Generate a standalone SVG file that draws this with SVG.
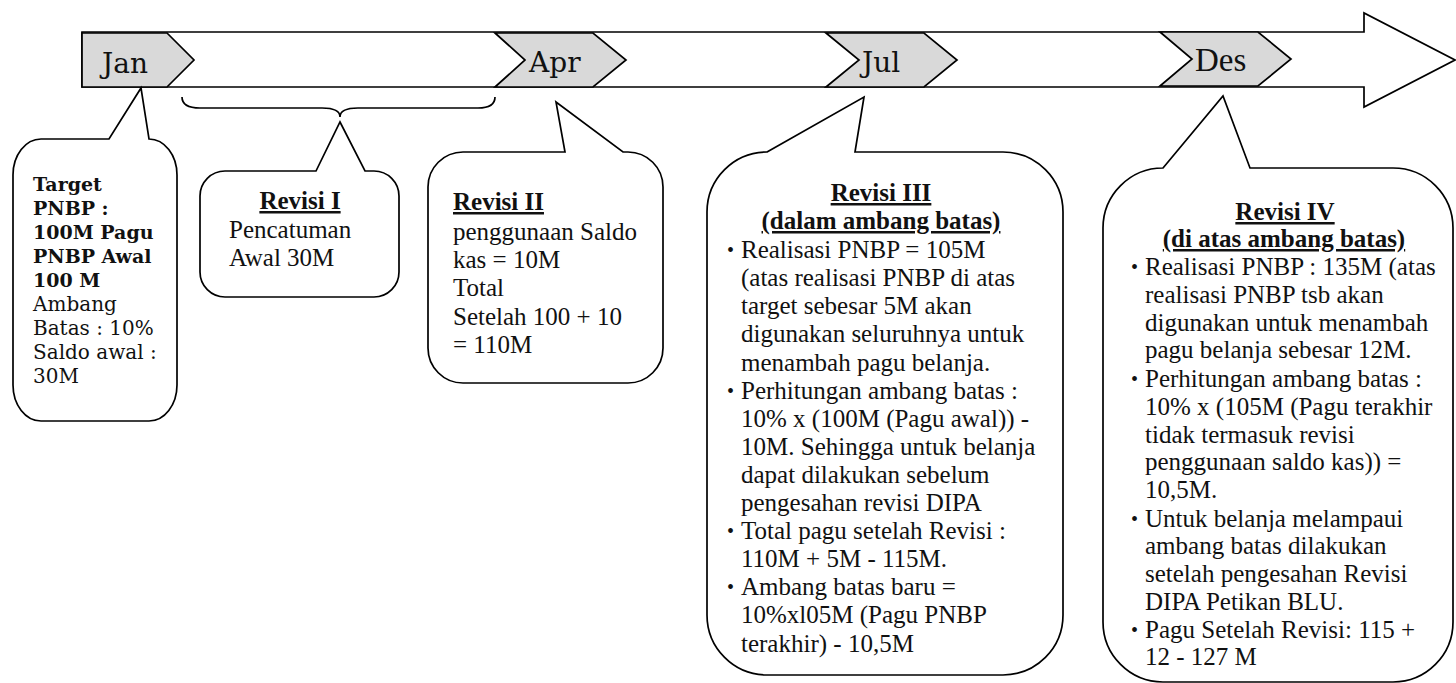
<svg xmlns="http://www.w3.org/2000/svg" width="1456" height="683" viewBox="0 0 1456 683">
  <style>
    .line { fill: none; stroke: #000; stroke-width: 1.7; stroke-linejoin: miter; }
    .box { fill: #fff; stroke: #000; stroke-width: 1.7; stroke-linejoin: miter; }
    .chev { fill: #d9d9d9; stroke: #000; stroke-width: 1.7; stroke-linejoin: miter; }
    .tm { font-family: "Liberation Serif", "Times New Roman", serif; font-size: 25px; fill: #111; }
    .bk { font-family: "DejaVu Serif", serif; fill: #111; }
    .b { font-weight: bold; }
    .u { text-decoration: underline; }
    .mid { text-anchor: middle; }
    .dot { font-size: 20px; }
  </style>

  <!-- timeline arrow -->
  <g id="timeline">
    <polygon class="box" points="82,32 1364,32 1364,13 1455,60 1364,107 1364,87 82,87"/>
  </g>

  <!-- month markers -->
  <g id="m-jan">
    <polygon class="chev" points="82,33 167,33 194,60 167,87 82,87"/>
    <text class="bk" x="102" y="73" style="font-size:28px">Jan</text>
  </g>
  <g id="m-apr">
    <polygon class="chev" points="495,33 593,33 626,60 593,87 495,87 525,60"/>
    <text class="bk" x="529" y="72" style="font-size:28px">Apr</text>
  </g>
  <g id="m-jul">
    <polygon class="chev" points="826,33 924,33 957,60 924,87 826,87 859,60"/>
    <text class="bk" x="862" y="72" style="font-size:28px">Jul</text>
  </g>
  <g id="m-des">
    <polygon class="chev" points="1160,32 1258,32 1291,59 1258,86 1160,86 1192,59"/>
    <text class="tm" x="1195" y="71" style="font-size:33px">Des</text>
  </g>

  <!-- span brace Jan..Apr -->
  <g id="connectors">
    <path class="line" d="M182,97 Q182,108 200,108 H322 Q340,108 340,117 Q340,108 358,108 H478 Q495,108 495,97"/>
  </g>

  <!-- initial state -->
  <g id="n-awal">
    <path class="box" d="M41,139 H109 L141,88 L149,139 A28,36 0 0 1 177,175 V385 A28,36 0 0 1 149,421 H41 A28,36 0 0 1 13,385 V175 A28,36 0 0 1 41,139 Z"/>
    <text class="bk b" style="font-size:19px">
      <tspan x="33" y="191">Target</tspan>
      <tspan x="33" y="215">PNBP :</tspan>
      <tspan x="33" y="239">100M Pagu</tspan>
      <tspan x="33" y="263">PNBP Awal</tspan>
      <tspan x="33" y="287">100 M</tspan>
    </text>
    <text class="bk" style="font-size:20px">
      <tspan x="33" y="311">Ambang</tspan>
      <tspan x="33" y="335">Batas : 10%</tspan>
      <tspan x="33" y="359">Saldo awal :</tspan>
      <tspan x="33" y="383">30M</tspan>
    </text>
  </g>

  <!-- revision I -->
  <g id="n-rev1">
    <path class="box" d="M225,171 H316 L340,122 L365,171 H374 A25,25 0 0 1 399,196 V272 A25,25 0 0 1 374,297 H225 A25,25 0 0 1 200,272 V196 A25,25 0 0 1 225,171 Z"/>
    <text class="tm b u mid" x="300" y="209">Revisi I</text>
    <text class="tm">
      <tspan x="229" y="238">Pencatuman</tspan>
      <tspan x="229" y="266">Awal 30M</tspan>
    </text>
  </g>

  <!-- revision II -->
  <g id="n-rev2">
    <path class="box" d="M463,152 H565 L556,102 L623,152 H628 A35,35 0 0 1 663,187 V348 A35,35 0 0 1 628,383 H463 A35,35 0 0 1 428,348 V187 A35,35 0 0 1 463,152 Z"/>
    <text class="tm b u" x="453" y="210">Revisi II</text>
    <text class="tm">
      <tspan x="453" y="240">penggunaan Saldo</tspan>
      <tspan x="453" y="268">kas = 10M</tspan>
      <tspan x="453" y="296">Total</tspan>
      <tspan x="453" y="325">Setelah 100 + 10</tspan>
      <tspan x="453" y="353">= 110M</tspan>
    </text>
  </g>

  <!-- revision III -->
  <g id="n-rev3">
    <path class="box" d="M767,152 L864,97 L855,152 H1003 A60,60 0 0 1 1063,212 V615 A60,60 0 0 1 1003,675 H767 A60,60 0 0 1 707,615 V212 A60,60 0 0 1 767,152 Z"/>
    <text class="tm b u mid" x="881" y="201">Revisi III</text>
    <text class="tm b u mid" x="881" y="229">(dalam ambang batas)</text>
    <text class="tm dot">
      <tspan x="727" y="257">•</tspan>
      <tspan x="727" y="398">•</tspan>
      <tspan x="727" y="538">•</tspan>
      <tspan x="727" y="594">•</tspan>
    </text>
    <text class="tm">
      <tspan x="741" y="258">Realisasi PNBP = 105M</tspan>
      <tspan x="741" y="286">(atas realisasi PNBP di atas</tspan>
      <tspan x="741" y="314">target sebesar 5M akan</tspan>
      <tspan x="741" y="342">digunakan seluruhnya untuk</tspan>
      <tspan x="741" y="371">menambah pagu belanja.</tspan>
      <tspan x="741" y="399">Perhitungan ambang batas :</tspan>
      <tspan x="741" y="427">10% x (100M (Pagu awal)) -</tspan>
      <tspan x="741" y="455">10M. Sehingga untuk belanja</tspan>
      <tspan x="741" y="483">dapat dilakukan sebelum</tspan>
      <tspan x="741" y="511">pengesahan revisi DIPA</tspan>
      <tspan x="741" y="539">Total pagu setelah Revisi :</tspan>
      <tspan x="741" y="567">110M + 5M - 115M.</tspan>
      <tspan x="741" y="595">Ambang batas baru =</tspan>
      <tspan x="741" y="623">10%xl05M (Pagu PNBP</tspan>
      <tspan x="741" y="652">terakhir) - 10,5M</tspan>
    </text>
  </g>

  <!-- revision IV -->
  <g id="n-rev4">
    <path class="box" d="M1163,168 L1223,96 L1250,168 H1393 A60,60 0 0 1 1453,228 V622 A60,60 0 0 1 1393,682 H1163 A60,60 0 0 1 1103,622 V228 A60,60 0 0 1 1163,168 Z"/>
    <text class="tm b u mid" x="1285" y="220">Revisi IV</text>
    <text class="tm b u mid" x="1284" y="247">(di atas ambang batas)</text>
    <text class="tm dot">
      <tspan x="1131" y="274">•</tspan>
      <tspan x="1131" y="386">•</tspan>
      <tspan x="1131" y="526">•</tspan>
      <tspan x="1131" y="637">•</tspan>
    </text>
    <text class="tm">
      <tspan x="1145" y="275">Realisasi PNBP : 135M (atas</tspan>
      <tspan x="1145" y="303">realisasi PNBP tsb akan</tspan>
      <tspan x="1145" y="331">digunakan untuk menambah</tspan>
      <tspan x="1145" y="358">pagu belanja sebesar 12M.</tspan>
      <tspan x="1145" y="387">Perhitungan ambang batas :</tspan>
      <tspan x="1145" y="415">10% x (105M (Pagu terakhir</tspan>
      <tspan x="1145" y="443">tidak termasuk revisi</tspan>
      <tspan x="1145" y="470">penggunaan saldo kas)) =</tspan>
      <tspan x="1145" y="498">10,5M.</tspan>
      <tspan x="1145" y="527">Untuk belanja melampaui</tspan>
      <tspan x="1145" y="554">ambang batas dilakukan</tspan>
      <tspan x="1145" y="582">setelah pengesahan Revisi</tspan>
      <tspan x="1145" y="610">DIPA Petikan BLU.</tspan>
      <tspan x="1145" y="638">Pagu Setelah Revisi: 115 +</tspan>
      <tspan x="1145" y="665">12 - 127 M</tspan>
    </text>
  </g>
</svg>
